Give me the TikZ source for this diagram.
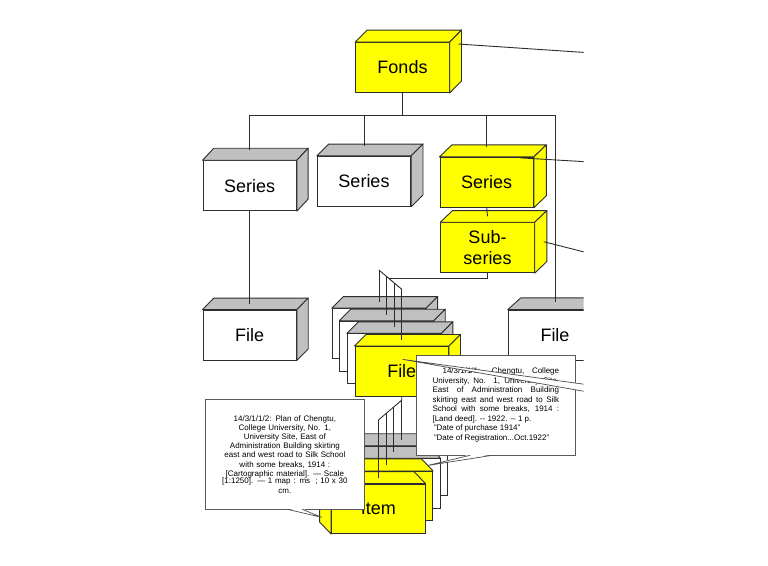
\documentclass[tikz,border=0pt]{standalone}
\usepackage{fontspec}
\setmainfont{Liberation Sans}
\usetikzlibrary{calc}
\definecolor{boxyellow}{RGB}{255,255,0}
\definecolor{facegrey}{RGB}{192,192,192}
\definecolor{edgegrey}{RGB}{45,45,45}
\tikzset{
  cube/.style={draw=edgegrey, line width=0.9pt, fill=white, inner sep=0pt,
    minimum width=93.5pt, minimum height=50pt, align=center,
    font={\fontsize{18pt}{21.6pt}\selectfont}},
  ycube/.style={cube, fill=boxyellow},
  face/.style={draw=edgegrey, line width=0.9pt, line join=round},
  link/.style={draw=edgegrey, line width=0.9pt},
  note/.style={draw=black!65, line width=0.7pt, fill=white, inner sep=0pt,
    minimum width=158.3pt,
    font={\fontsize{8pt}{9.5pt}\selectfont\tolerance=9999\hbadness=10000}},
  notetip/.style={draw=black!70, line width=0.7pt, line join=round}}
% top and side face of a box node: node, depth, side, colour
\newcommand{\cubefaces}[4]{%
  \filldraw[face, fill=#4] (#1.north west) -- ++(#2) -- ([shift={(#2)}]#1.north east) -- (#1.north east) -- cycle;
  \filldraw[face, fill=#4] (#1.north #3) -- ++(#2) -- ([shift={(#2)}]#1.south #3) -- (#1.south #3) -- cycle;}

\begin{document}
\begin{tikzpicture}[x=1pt, y=-1pt]
\useasboundingbox (0,0) rectangle (768,565);
\begin{scope}
\clip (0,0) rectangle (583.5,565);
% fonds, series, sub-series
\node[ycube] (fonds) at (402.5,67.5) {Fonds};
\cubefaces{fonds}{11.8,-12}{east}{boxyellow}
\node[cube] (ser1) at (249.7,185.7) {Series};
\cubefaces{ser1}{11.2,-12}{east}{facegrey}
\node[cube] (ser2) at (364,181.3) {Series};
\cubefaces{ser2}{11.8,-11.8}{east}{facegrey}
\node[ycube] (ser3) at (486.7,182.3) {Series};
\cubefaces{ser3}{12.4,-12}{east}{boxyellow}
\node[ycube] (subser) at (487.5,247.7) {Sub-\\series};
\cubefaces{subser}{12.2,-11.7}{east}{boxyellow}
% files
\node[cube] (filel) at (249.7,335) {File};
\cubefaces{filel}{11.3,-11.5}{east}{facegrey}
\node[cube] (filer) at (555,335) {File};
\cubefaces{filer}{13,-11.7}{east}{facegrey}
\foreach \n/\x/\y in {fila/378.95/333.6, filb/386.55/346.2, filc/394.15/358.8}{
  \node[cube] (\n) at (\x,\y) {};
  \cubefaces{\n}{11.5,-11.5}{east}{facegrey}
}
\node[ycube] (fild) at (401.75,371.4) {File};
\cubefaces{fild}{11.5,-11.5}{east}{boxyellow}
% items, stacked the other way round
\foreach \n/\x/\y in {item1/401.05/470.95, item2/393.45/483.55}{
  \node[cube, minimum height=49.5pt] (\n) at (\x,\y) {};
  \cubefaces{\n}{-11.5,-12}{west}{facegrey}
}
\node[ycube, minimum height=49.5pt] (item3) at (385.85,496.15) {};
\cubefaces{item3}{-11.5,-12}{west}{boxyellow}
\node[ycube, minimum height=49.5pt] (item4) at (378.25,508.75) {Item};
\cubefaces{item4}{-11.5,-12}{west}{boxyellow}
% tree lines
\coordinate (bus) at ([yshift=-22.5pt]fonds.south);
\draw[link] (fonds.south) -- (bus);
\draw[link] (ser1.north |- bus) -- (filer.north |- bus);
\foreach \n in {ser1,ser2,ser3}
  \draw[link] (\n.north |- bus) -- ([yshift=10pt]\n.north);
\draw[link] (filer.north |- bus) -- ([yshift=8pt]filer.north);
\draw[link] (ser1.south) -- ([yshift=6pt]filel.north);
\draw[link] (ser3.south) -- ([yshift=6pt]subser.north);
% fork down to the files
\coordinate (fk1) at (378.95,270);
\coordinate (fk2) at (401.75,289.3);
\draw[link] (subser.south) |- ($(fk1)!0.45!(fk2)$);
\draw[link] (fk1) -- (fk2);
\foreach \n/\t in {fila/0, filb/0.333, filc/0.667, fild/1}
  \draw[link] ($(fk1)!\t!(fk2)$) coordinate (ft) -- ([yshift=6pt]ft |- \n.north);
% fork down to the items
\draw[link] (fild.south) -- ++(0,3.3) coordinate (ik1) -- ++(-23.5,20) coordinate (ik2);
\foreach \n/\t in {item1/0, item2/0.333, item3/0.667, item4/1}
  \draw[link] ($(ik1)!\t!(ik2)$) coordinate (it) -- ([yshift=6pt]it |- \n.north);
% lines out to notes beyond the edge
\coordinate (fondsnote) at (600,53.5);
\coordinate (sernote) at (600,162.6);
\coordinate (subnote) at (600,256);
\draw[link] ([shift={(9,2)}]fonds.north east) -- (fondsnote);
\draw[link] ([shift={(-13.5,1)}]ser3.north east) -- (sernote);
\draw[link] ([shift={(9,-6)}]subser.east) -- (subnote);
% notes
\node[note, minimum height=100pt, text width=126.6pt, align=justify] (note1) at (495.85,405)
  {\noindent\hspace*{10pt}14/3/1/1/1: Chengtu, College\linebreak{} University, No. 1, University Site,\linebreak{} East of Administration Building\linebreak{} skirting east and west road to Silk\linebreak{} School with some breaks, 1914 :\linebreak{} [Land deed]. -{}- 1922. -{}- 1 p.\\ \hspace*{1.5pt}"Date of purchase 1914"\\ \hspace*{1.5pt}"Date of Registration...Oct.1922"};
\coordinate (n1a) at (note1.south -| 470,0);
\coordinate (n1b) at (note1.south -| 492,0);
\coordinate (n1tip) at (427.5,465.5);
\fill[white] ([yshift=0.9pt]n1a) -- (n1tip) -- ([yshift=0.9pt]n1b) -- cycle;
\draw[notetip] (n1a) -- (n1tip) -- (n1b);
\node[note, minimum height=109.3pt, text width=150pt, align=center,
  font={\fontsize{8pt}{9.2pt}\selectfont}] (note2) at (284.85,454.2)
  {14/3/1/1/2: Plan of Chengtu,\\ College University, No. 1,\\ University Site, East of\\ Administration Building skirting\\ east and west road to Silk School\\ with some breaks, 1914 :\\{}[Cartographic material]. — Scale\\[-1.5pt]{}[1:1250]. — 1 map : ms\ \ ; 10 x 30\\ cm.};
\coordinate (n2a) at (note2.south -| 287,0);
\coordinate (n2b) at (note2.south -| 302,0);
\coordinate (n2tip) at (321.5,517.3);
\fill[white] ([yshift=0.9pt]n2a) -- (n2tip) -- ([yshift=0.9pt]n2b) -- cycle;
\draw[notetip] (n2a) -- (n2tip) -- (n2b);
% pointer from the front file to a note beyond the edge
\coordinate (filnote1) at (600,386.4);
\coordinate (filnote2) at (600,394.1);
\filldraw[notetip, fill=white] ([shift={(1,-12)}]fild.center) -- (filnote1) -- (filnote2) -- cycle;
\end{scope}
\end{tikzpicture}
\end{document}
